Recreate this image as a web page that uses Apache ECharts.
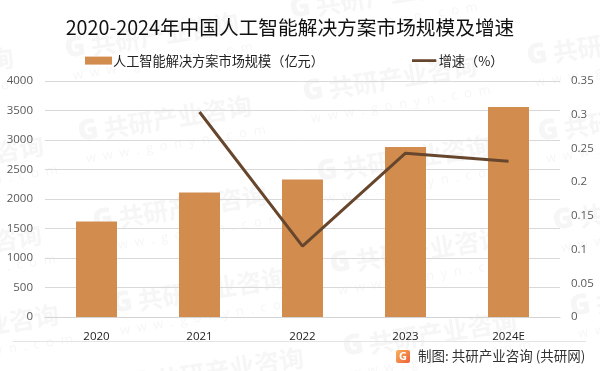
<!DOCTYPE html>
<html><head><meta charset="utf-8">
<style>html,body{margin:0;padding:0;background:#fff}#c{width:600px;height:371px}</style>
<script src="https://cdn.jsdelivr.net/npm/echarts@6/dist/echarts.min.js"></script></head>
<body><div id="c"></div>
<script>
const categories=['2020','2021','2022','2023','2024E'];
const scaleValues=[1620,2110,2330,2880,3560];
const growthValues=[null,0.304,0.105,0.243,0.231];
const titleText='2020-2024年中国人工智能解决方案市场规模及增速';
const barName='人工智能解决方案市场规模（亿元）';
const lineName='增速（%）';
const sourceText='制图: 共研产业咨询 (共研网)';
const watermarkSpots=[[65,50],[290,10],[-160,85],[78,133],[303,93],[527,57],[-130,173],[93,222],[317,173],[538,133],[-132,262],[112,305],[330,265],[553,222],[-115,342],[130,385],[343,348],[570,308]];
const font='"Noto Sans CJK SC","Noto Sans",sans-serif';
const latin='"Open Sans",sans-serif';
const wm=watermarkSpots.map(p=>({type:'group',x:p[0],y:p[1],rotation:0.16,silent:true,z:0,children:[
  {type:'text',x:0,y:0,silent:true,style:{text:'G',font:'900 28px '+latin,fill:'#f6f6f6',align:'left',verticalAlign:'middle'}},
  {type:'text',x:26,y:0,silent:true,style:{text:'共研产业咨询',font:'bold 25px '+font,fill:'#f6f6f6',align:'left',verticalAlign:'middle'}},
  {type:'text',x:4,y:27,silent:true,style:{text:'w  w  w  .  g  o  n  y  n  .  c  o  m',font:'13px '+latin,fill:'#f6f6f6',align:'left',verticalAlign:'middle'}}
]}));
const chart=echarts.init(document.getElementById('c'),null,{renderer:'canvas'});
chart.setOption({
  animation:false,
  backgroundColor:'#fff',
  textStyle:{fontFamily:font},
  title:{text:titleText,left:285,textAlign:'center',top:13,textStyle:{fontSize:19.7,fontWeight:'normal',color:'#111',fontFamily:font}},
  legend:{top:50,left:80,padding:[4,5],itemGap:88,itemWidth:27,itemHeight:8,textStyle:{fontSize:13.2,color:'#222',fontFamily:font,padding:[0,0,0,-4]},
    data:[{name:barName,icon:'rect'},{name:lineName,icon:'path://M0 0L0.01 0ZM0 3H27V6H0ZM0 8.9L0.01 8.9Z'}]},
  grid:{left:45,right:40,top:81,bottom:54,outerBoundsMode:'none'},
  xAxis:{type:'category',data:categories,axisTick:{show:false},axisLine:{lineStyle:{color:'#d4d4d4'}},axisLabel:{margin:14,fontSize:11.5,color:'#222',fontFamily:latin}},
  yAxis:[
    {type:'value',min:0,max:4000,interval:500,axisLine:{show:false},axisTick:{show:false},splitLine:{lineStyle:{color:'#d9d9d9'}},
      axisLabel:{margin:12,fontSize:11.5,color:'#595959',fontFamily:latin,formatter:v=>String(v)}},
    {type:'value',min:0,max:0.35,interval:0.05,axisLine:{show:false},axisTick:{show:false},splitLine:{show:false},
      axisLabel:{margin:11,fontSize:11.5,color:'#595959',fontFamily:latin,formatter:v=>String(+v.toFixed(2))}}
  ],
  series:[
    {name:barName,type:'bar',data:scaleValues,barWidth:41,itemStyle:{color:'#d28c4e'},z:2},
    {name:lineName,type:'line',yAxisIndex:1,data:growthValues,symbol:'none',lineStyle:{color:'#67462e',width:3},itemStyle:{color:'#67462e'},z:3}
  ],
  graphic:wm.concat([
    {type:'rect',shape:{x:13,y:341,width:573,height:1},style:{fill:'#e4e4e4'},silent:true,z:1},
    {type:'rect',shape:{x:396,y:350,width:14,height:13,r:2},style:{fill:new echarts.graphic.LinearGradient(0,0,1,1,[{offset:0,color:'#f8b25a'},{offset:1,color:'#ee5f3a'}])},silent:true,z:2},
    {type:'text',x:403,y:356.5,silent:true,z:3,style:{text:'G',font:'bold 11px '+latin,fill:'#fff',align:'center',verticalAlign:'middle'}},
    {type:'text',x:418,y:356,silent:true,z:3,style:{text:sourceText,font:'13.5px '+font,fill:'#333',align:'left',verticalAlign:'middle'}}
  ])
});
</script></body></html>
